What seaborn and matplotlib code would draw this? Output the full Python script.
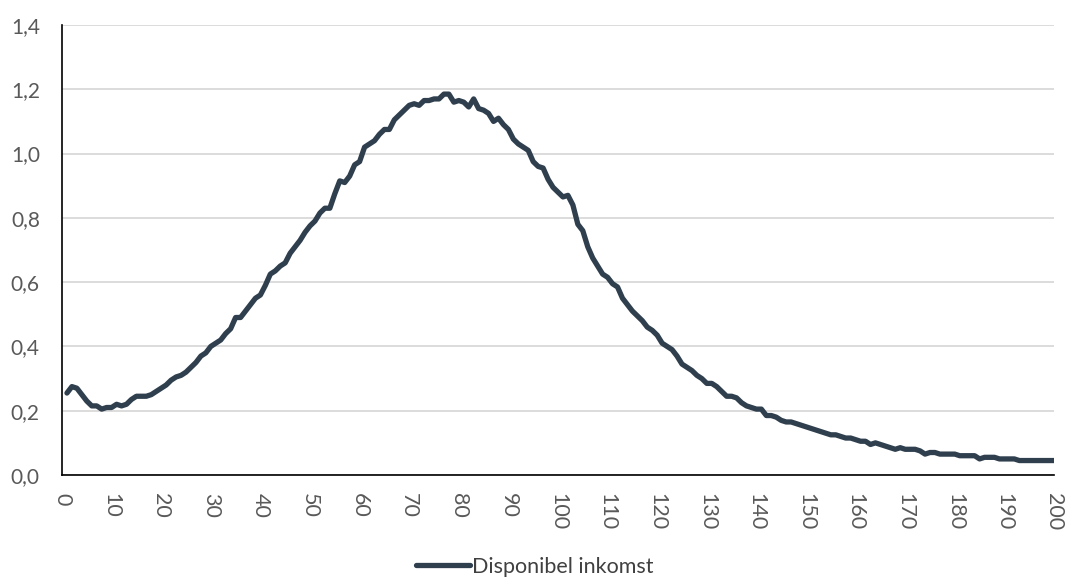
import numpy as np
import pandas as pd
import matplotlib.pyplot as plt
import seaborn as sns

# inntekt (x) og andel (y), lest av figuren
x_vals = list(range(1, 201))
values = [
    0.255, 0.275, 0.27, 0.25, 0.23, 0.215, 0.215, 0.205, 0.21, 0.21,
    0.22, 0.215, 0.22, 0.235, 0.245, 0.245, 0.245, 0.25, 0.26, 0.27,
    0.28, 0.295, 0.305, 0.31, 0.32, 0.335, 0.35, 0.37, 0.38, 0.40,
    0.41, 0.42, 0.44, 0.455, 0.49, 0.49, 0.51, 0.53, 0.55, 0.56,
    0.59, 0.625, 0.635, 0.65, 0.66, 0.69, 0.71, 0.73, 0.755, 0.775,
    0.79, 0.815, 0.83, 0.83, 0.875, 0.915, 0.91, 0.93, 0.965, 0.975,
    1.02, 1.03, 1.04, 1.06, 1.075, 1.075, 1.105, 1.12, 1.135, 1.15,
    1.155, 1.15, 1.165, 1.165, 1.17, 1.17, 1.185, 1.185, 1.16, 1.165,
    1.16, 1.145, 1.17, 1.14, 1.135, 1.125, 1.10, 1.11, 1.09, 1.075,
    1.045, 1.03, 1.02, 1.01, 0.975, 0.96, 0.955, 0.92, 0.895, 0.88,
    0.865, 0.87, 0.84, 0.78, 0.76, 0.71, 0.675, 0.65, 0.625, 0.615,
    0.595, 0.585, 0.55, 0.53, 0.51, 0.495, 0.48, 0.46, 0.45, 0.435,
    0.41, 0.40, 0.39, 0.37, 0.345, 0.335, 0.325, 0.31, 0.30, 0.285,
    0.285, 0.275, 0.26, 0.245, 0.245, 0.24, 0.225, 0.215, 0.21, 0.205,
    0.205, 0.185, 0.185, 0.18, 0.17, 0.165, 0.165, 0.16, 0.155, 0.15,
    0.145, 0.14, 0.135, 0.13, 0.125, 0.125, 0.12, 0.115, 0.115, 0.11,
    0.105, 0.105, 0.095, 0.10, 0.095, 0.09, 0.085, 0.08, 0.085, 0.08,
    0.08, 0.08, 0.075, 0.065, 0.07, 0.07, 0.065, 0.065, 0.065, 0.065,
    0.06, 0.06, 0.06, 0.06, 0.05, 0.055, 0.055, 0.055, 0.05, 0.05,
    0.05, 0.05, 0.045, 0.045, 0.045, 0.045, 0.045, 0.045, 0.045, 0.045,
]
series_name = 'Disponibel inkomst'
x_ticks = list(range(0, 201, 10))
y_ticks = [0.0, 0.2, 0.4, 0.6, 0.8, 1.0, 1.2, 1.4]

df = pd.DataFrame({'x': x_vals, 'y': values})

sns.set_style('white')
plt.rcParams['font.family'] = ['Lato', 'DejaVu Sans']

fig = plt.figure(figsize=(10.69, 5.79), dpi=100)
ax = fig.add_axes([62 / 1069, 1 - 475 / 579, (1054 - 62) / 1069, (475 - 25) / 579])

sns.lineplot(data=df, x='x', y='y', ax=ax, color='#2f3f4e', linewidth=3.8,
             label=series_name, legend=False)

ax.set_xlim(0, 200)
ax.set_ylim(0, 1.4)
ax.set_xticks(x_ticks)
ax.set_xticklabels([str(t) for t in x_ticks], rotation=-90, fontsize=15.5,
                   color='#595959')
ax.set_yticks(y_ticks)
ax.set_yticklabels([f'{t:.1f}'.replace('.', ',') for t in y_ticks], fontsize=15,
                   color='#595959')
ax.set_xlabel('')
ax.set_ylabel('')

ax.grid(axis='y', color='#d9d9d9', linewidth=1.3)
ax.set_axisbelow(True)
for s in ['top', 'right']:
    ax.spines[s].set_visible(False)
for s in ['left', 'bottom']:
    ax.spines[s].set_color('black')
    ax.spines[s].set_linewidth(1.2)

ax.tick_params(axis='x', direction='out', length=5, width=1.2, color='black', pad=8)
ax.tick_params(axis='y', direction='in', length=6, width=1.2, color='black', pad=16)

handles, labels = ax.get_legend_handles_labels()
fig.legend(handles, labels, loc='lower center', bbox_to_anchor=(0.5, -0.03),
           frameon=False, fontsize=15.5, handlelength=2.5, handletextpad=0.1,
           labelcolor='#404040')

fig.savefig('out.png', dpi=100)
